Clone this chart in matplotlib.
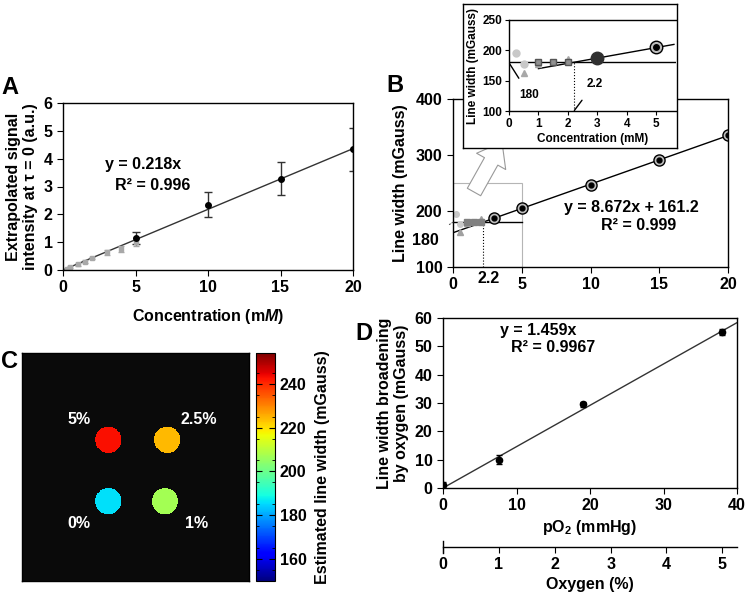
import numpy as np
import matplotlib
matplotlib.use('Agg')
import matplotlib.pyplot as plt
from matplotlib.patches import Rectangle

plt.rcParams['font.family'] = ['Liberation Sans', 'DejaVu Sans']
plt.rcParams['font.weight'] = 'bold'
plt.rcParams['axes.labelweight'] = 'bold'
plt.rcParams['mathtext.fontset'] = 'custom'
plt.rcParams['mathtext.rm'] = 'Liberation Sans:bold'
plt.rcParams['mathtext.it'] = 'Liberation Sans:italic:bold'
plt.rcParams['axes.linewidth'] = 1.0
plt.rcParams['xtick.major.size'] = 4
plt.rcParams['ytick.major.size'] = 4

# ---- data ----
# panel A
a_black_x = [5, 10, 15, 20]
a_black_y = [1.15, 2.35, 3.28, 4.33]
a_black_err = [0.22, 0.45, 0.6, 0.77]
a_gray_x = [0.25, 0.5, 1, 1.5, 2, 3, 4, 5]
a_gray_y = [0.05, 0.1, 0.2, 0.3, 0.43, 0.63, 0.75, 1.0]
a_gray_err = [0.02, 0.03, 0.04, 0.05, 0.05, 0.08, 0.12, 0.15]
a_slope = 0.218

# panel B
b_circ_x = [0.25, 0.5]
b_circ_y = [195, 177]
b_tri_x = [0.5, 1, 2]
b_tri_y = [163, 178, 185]
b_sq_x = [1, 1.5, 2]
b_sq_y = [180, 180, 181]
b_big_x = [3]
b_big_y = [188]
b_ring_x = [5, 10, 15, 20]
b_ring_y = [205, 247, 291, 335]
b_slope, b_icpt = 8.672, 161.2
b_thresh_y = 180
b_thresh_x = 2.2

# panel C
c_labels = ['5%', '2.5%', '0%', '1%']
c_cx = [38, 64, 38, 63]
c_cy = [38, 38, 65, 65]
c_vals = [243, 224, 186, 207]
c_radius = 5.8
c_vmin, c_vmax = 150, 254

# panel D
d_x = [0, 7.6, 19, 38]
d_y = [1, 10, 29.5, 55]
d_err = [1, 1.5, 1, 1]
d_slope = 1.459

W, H = 750, 599
fig = plt.figure(figsize=(W / 100, H / 100), dpi=100)


def box(x0, y0, x1, y1):
    return [x0 / W, 1 - y1 / H, (x1 - x0) / W, (y1 - y0) / H]


fs = 11.5
fsi = 8.5
fl = 17

# ---------------- A ----------------
axA = fig.add_axes(box(63, 103, 353, 270))
xx = np.array([0, 20])
axA.plot(xx, a_slope * xx, color='#333333', lw=1)
axA.errorbar(a_gray_x, a_gray_y, yerr=a_gray_err, fmt='s', ms=3.5, color='#a8a8a8',
             ecolor='#a8a8a8', capsize=2, elinewidth=1)
axA.errorbar(a_black_x, a_black_y, yerr=a_black_err, fmt='o', ms=4, color='black',
             ecolor='#333333', capsize=3, elinewidth=1)
axA.set_xlim(0, 20)
axA.set_ylim(0, 6)
axA.set_xticks([0, 5, 10, 15, 20])
axA.set_yticks(range(7))
axA.tick_params(labelsize=fs)
axA.set_xlabel('Concentration (m$\\mathit{M}$)', fontsize=fs, labelpad=8)
axA.set_ylabel('Extrapolated signal\nintensity at τ = 0 (a.u.)', fontsize=fs, labelpad=4)
axA.text(5.5, 3.8, 'y = 0.218x', fontsize=fs, ha='center', va='center')
axA.text(6.2, 3.05, 'R² = 0.996', fontsize=fs, ha='center', va='center')
fig.text(10 / W, 1 - 87 / H, 'A', fontsize=fl, fontweight='bold', ha='center', va='center')

# ---------------- B main ----------------
axB = fig.add_axes(box(453, 99, 728, 267))
xb = np.array([0, 20.5])
axB.plot(xb, b_slope * xb + b_icpt, color='black', lw=1)
axB.plot([0, 5], [b_thresh_y, b_thresh_y], color='black', lw=1)
axB.plot([b_thresh_x, b_thresh_x], [100, b_thresh_y], color='black', lw=0.8, ls=':')
axB.add_patch(Rectangle((0, 100), 5, 150, fill=False, ec='#b5b5b5', lw=0.8))
axB.plot(b_circ_x, b_circ_y, 'o', ms=4, color='#c8c8c8')
axB.plot(b_tri_x, b_tri_y, '^', ms=4, color='#a0a0a0')
axB.plot(b_sq_x, b_sq_y, 's', ms=4, color='#808080')
axB.plot(b_big_x + b_ring_x, b_big_y + b_ring_y, 'o', ms=8, mfc='#bdbdbd', mec='black', mew=1)
axB.plot(b_big_x + b_ring_x, b_big_y + b_ring_y, 'o', ms=3.5, color='black')
axB.set_xlim(0, 20)
axB.set_ylim(100, 400)
axB.set_xticks([0, 5, 10, 15, 20])
axB.set_yticks([100, 200, 300, 400])
axB.tick_params(labelsize=fs)
axB.set_ylabel('Line width (mGauss)', fontsize=fs, labelpad=6)
axB.text(13.0, 207, 'y = 8.672x + 161.2', fontsize=fs, ha='center', va='center')
axB.text(13.5, 175, 'R² = 0.999', fontsize=fs, ha='center', va='center')
axB.annotate('180', xy=(0, b_thresh_y), xytext=(-2.0, 148), fontsize=fs, ha='center',
             va='center', annotation_clip=False,
             arrowprops=dict(arrowstyle='-', ls=':', color='#555555', lw=0.8,
                             shrinkA=7, shrinkB=0))
axB.text(2.6, 80, '2.2', fontsize=fs, ha='center', va='center', clip_on=False)
fig.text(395 / W, 1 - 86 / H, 'B', fontsize=fl, fontweight='bold', ha='center', va='center')

# hollow arrow from zoom region to inset
axB.annotate('', xy=(502, H - 142), xycoords='figure pixels',
             xytext=(474, H - 192), textcoords='figure pixels',
             arrowprops=dict(arrowstyle='simple,head_width=1.2,head_length=0.8,tail_width=0.55',
                             fc='white', ec='#999999', lw=0.8, mutation_scale=20,
                             shrinkA=0, shrinkB=0))

# ---------------- B inset ----------------
axBox = fig.add_axes(box(463, 4, 677, 148))
axBox.set_xticks([])
axBox.set_yticks([])
axBox.set_facecolor('white')

axI = fig.add_axes(box(509, 20, 676, 111))
axI.set_facecolor('none')
xi = np.array([1, 5.6])
axI.plot(xi, b_slope * xi + b_icpt, color='black', lw=1)
axI.plot([0, 5.67], [b_thresh_y, b_thresh_y], color='black', lw=1)
axI.plot([b_thresh_x, b_thresh_x], [100, b_thresh_y], color='black', lw=0.8, ls=':')
axI.plot(b_circ_x, b_circ_y, 'o', ms=5, color='#c8c8c8')
axI.plot(b_tri_x, b_tri_y, '^', ms=5, color='#a8a8a8')
axI.plot(b_sq_x, b_sq_y, 's', ms=5, mfc='#909090', mec='#555555')
axI.plot(b_big_x, b_big_y, 'o', ms=9, color='#303030')
axI.plot(b_ring_x[:1], b_ring_y[:1], 'o', ms=9, mfc='#bdbdbd', mec='black', mew=1)
axI.plot(b_ring_x[:1], b_ring_y[:1], 'o', ms=4, color='black')
axI.set_xlim(0, 5.67)
axI.set_ylim(100, 250)
axI.set_xticks([0, 1, 2, 3, 4, 5])
axI.set_yticks([100, 150, 200, 250])
axI.spines['right'].set_visible(False)
axI.tick_params(labelsize=fsi, length=3, pad=2)
axI.set_xlabel('Concentration (mM)', fontsize=fsi, labelpad=2)
axI.set_ylabel('Line width (mGauss)', fontsize=fsi, labelpad=2)
axI.annotate('180', xy=(0.02, 178), xytext=(0.7, 126), fontsize=fsi, ha='center',
             va='center', arrowprops=dict(arrowstyle='-', color='black', lw=1,
                                          shrinkA=7, shrinkB=0))
axI.annotate('2.2', xy=(2.22, 101), xytext=(2.9, 145), fontsize=fsi, ha='center',
             va='center', arrowprops=dict(arrowstyle='-', color='black', lw=1,
                                          shrinkA=7, shrinkB=0))

# ---------------- C ----------------
axC = fig.add_axes(box(22, 353, 249, 581))
g = np.linspace(0, 100, 400)
GX, GY = np.meshgrid(g, g)
img = np.full(GX.shape, np.nan)
for cx, cy, v in zip(c_cx, c_cy, c_vals):
    inside = (GX - cx) ** 2 + (GY - cy) ** 2 <= c_radius ** 2
    img[inside] = v
cmap = plt.get_cmap('jet').copy()
cmap.set_bad('#0a0a0a')
im = axC.imshow(np.ma.masked_invalid(img), cmap=cmap, vmin=c_vmin, vmax=c_vmax,
                extent=[0, 100, 100, 0], interpolation='nearest', aspect='auto')
axC.set_xticks([])
axC.set_yticks([])
for lab, cx, cy in zip(c_labels, c_cx, c_cy):
    dx = -13 if cx < 50 else 14
    dy = -9 if cy < 50 else 10
    axC.text(cx + dx, cy + dy, lab, color='white', fontsize=fs, ha='center', va='center')
fig.text(10 / W, 1 - 361 / H, 'C', fontsize=fl, fontweight='bold', ha='center', va='center')

cax = fig.add_axes(box(256, 353, 275, 581))
cb = fig.colorbar(im, cax=cax)
cb.set_ticks([160, 180, 200, 220, 240])
cb.ax.set_yticks(np.arange(155, 255, 10), minor=True)
cb.ax.tick_params(labelsize=fs, length=4, direction='in', left=True, which='both')
cb.ax.tick_params(which='minor', length=2.5)
cb.set_label('Estimated line width (mGauss)', fontsize=fs, labelpad=6)
cb.outline.set_linewidth(0.8)

# ---------------- D ----------------
axD = fig.add_axes(box(443, 318, 737, 488))
xd = np.array([0, 40])
axD.plot(xd, d_slope * xd, color='#333333', lw=1)
axD.errorbar(d_x, d_y, yerr=d_err, fmt='o', ms=4.5, color='black', capsize=2.5, elinewidth=1)
axD.set_xlim(0, 40)
axD.set_ylim(0, 60)
axD.set_xticks([0, 10, 20, 30, 40])
axD.set_yticks(range(0, 61, 10))
axD.tick_params(labelsize=fs)
axD.set_xlabel('pO$_2$ (mmHg)', fontsize=fs, labelpad=3)
axD.set_ylabel('Line width broadening\nby oxygen (mGauss)', fontsize=fs, labelpad=4)
axD.text(13.0, 55.5, 'y = 1.459x', fontsize=fs, ha='center', va='center')
axD.text(15.0, 49.5, 'R² = 0.9967', fontsize=fs, ha='center', va='center')
fig.text(364 / W, 1 - 334 / H, 'D', fontsize=fl, fontweight='bold', ha='center', va='center')

axO = fig.add_axes(box(443, 541, 737, 553))
axO.set_facecolor('none')
axO.set_xlim(0, 40 / 7.6)
axO.set_ylim(-1, 1)
for s in ['top', 'right']:
    axO.spines[s].set_visible(False)
axO.spines['bottom'].set_position(('data', 0))
axO.set_yticks([])
axO.set_xticks([0, 1, 2, 3, 4, 5])
axO.tick_params(labelsize=fs, length=4)
axO.set_xlabel('Oxygen (%)', fontsize=fs, labelpad=3)

fig.savefig('out.png', dpi=100)
